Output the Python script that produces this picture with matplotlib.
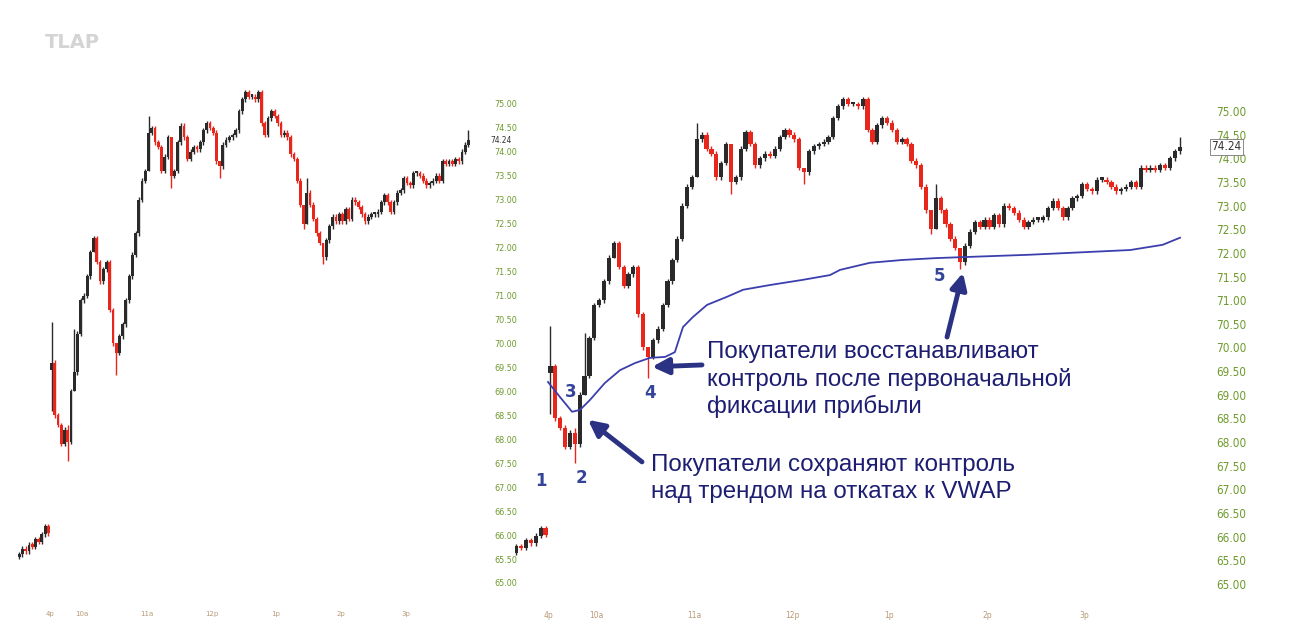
"""
Intraday candles (3-min bars) with VWAP, two views of the same session.
"""
import numpy as np
import matplotlib.pyplot as plt

# ---- data ----
# pre-market bars, minutes relative to 9:30
pre_times = [-28.5, -25.5, -22.5, -19.5, -16.5, -13.5, -10.5, -7.5, -4.5, -1.5]
pre_closes = [65.60, 65.72, 65.66, 65.80, 65.76, 65.92, 65.86, 66.02, 66.18, 66.04]
pre_open = 65.55

session_open = 69.45
closes = [
    69.60, 68.50, 68.30, 67.90, 68.20, 67.95, 69.00, 69.40, 70.20, 70.90,
    71.00, 71.40, 71.90, 72.20, 71.70, 71.30, 71.55, 71.70, 70.70, 70.00,
    69.80, 70.15, 70.40, 70.90, 71.40, 71.85, 72.30, 73.00, 73.40, 73.60,
    74.40, 74.50, 74.20, 74.10, 73.60, 73.90, 74.30, 73.50, 73.60, 74.20,
    74.55, 74.30, 73.85, 74.00, 74.10, 74.05, 74.20, 74.45, 74.60, 74.50,
    74.40, 73.80, 73.70, 74.15, 74.25, 74.30, 74.35, 74.45, 74.85, 75.10,
    75.25, 75.15, 75.15, 75.10, 75.25, 74.60, 74.35, 74.70, 74.85, 74.75,
    74.60, 74.35, 74.40, 74.30, 73.95, 73.85, 73.40, 72.90, 72.50, 73.15,
    72.90, 72.60, 72.30, 72.10, 71.80, 72.15, 72.45, 72.65, 72.55, 72.70,
    72.55, 72.80, 72.60, 73.00, 72.95, 72.85, 72.70, 72.55, 72.65, 72.70,
    72.70, 72.75, 72.95, 73.10, 72.95, 72.75, 72.95, 73.15, 73.20, 73.45,
    73.35, 73.30, 73.55, 73.55, 73.50, 73.40, 73.30, 73.35, 73.40, 73.50,
    73.40, 73.80, 73.75, 73.80, 73.75, 73.85, 73.80, 74.00, 74.15, 74.24,
]
# notable wicks: bar index -> (high, low)
wicks = {0: (70.45, 68.60), 5: (68.30, 67.55), 7: (70.30, 69.00),
         13: (72.25, 71.90), 20: (70.00, 69.35), 30: (74.75, 73.60),
         37: (74.30, 73.25), 52: (73.80, 73.45), 60: (75.30, 75.05),
         78: (72.90, 72.40), 79: (73.45, 72.50), 84: (72.10, 71.65),
         129: (74.45, 74.10)}
last_price = 74.24

# VWAP, minutes after 9:30
vwap_t = [0, 7.4, 14.8, 19.7, 25.8, 35, 44.3, 53.5, 62.7, 72, 78, 83, 89,
          97.8, 110, 120, 136.5, 156.8, 173.4, 179.6, 198, 218, 239, 296,
          358, 378, 388.7]
vwap = [69.27, 68.95, 68.64, 68.68, 68.89, 69.25, 69.52, 69.67, 69.78,
        69.80, 69.90, 70.43, 70.64, 70.90, 71.07, 71.22, 71.32, 71.43,
        71.53, 71.64, 71.79, 71.85, 71.89, 71.96, 72.06, 72.17, 72.32]

hour_ticks = [0, 30, 90, 150, 210, 270, 330]
hour_labels = ['4p', '10a', '11a', '12p', '1p', '2p', '3p']
price_ticks = np.arange(65.0, 75.01, 0.5)

UP, DOWN = '#2a2a2a', '#e8261c'
GREEN = '#6e9a2c'
NAVY = '#1d1d72'
NUMBLUE = '#34449a'
NARROW = dict(family='DejaVu Sans', stretch='condensed')

# ---- build OHLC ----
bar_min = 3
times = np.array(pre_times + [bar_min * (i + 0.5) for i in range(len(closes))])
opens = np.array([pre_open] + pre_closes[:-1] + [session_open] + closes[:-1])
cl = np.array(pre_closes + closes)
hi = np.maximum(opens, cl) + 0.05
lo = np.minimum(opens, cl) - 0.05
for k, (h, l) in wicks.items():
    hi[len(pre_closes) + k] = h
    lo[len(pre_closes) + k] = l

W, H = 1290, 637
fig = plt.figure(figsize=(W / 100, H / 100), dpi=100)


def px_axes(x0, x1, y0, y1):
    ax = fig.add_axes([x0 / W, 1 - y1 / H, (x1 - x0) / W, (y1 - y0) / H])
    ax.patch.set_visible(False)
    return ax


def candles(ax, width):
    col = np.where(cl >= opens, UP, DOWN)
    ax.vlines(times, lo, hi, colors=col, lw=1.0, zorder=2)
    ax.bar(times, np.maximum(np.abs(cl - opens), 0.05),
           bottom=np.minimum(opens, cl), width=width, color=col,
           linewidth=0, zorder=3)


def style(ax, xlim, ylim, fs, pad, xfs):
    ax.set_xlim(*xlim)
    ax.set_ylim(*ylim)
    for s in ax.spines.values():
        s.set_visible(False)
    ax.yaxis.tick_right()
    ax.set_yticks(price_ticks)
    ax.set_yticklabels([f'{v:.2f}' for v in price_ticks], **NARROW)
    ax.tick_params(axis='y', length=0, pad=pad, labelsize=fs,
                   labelcolor=GREEN)
    ax.set_xticks(hour_ticks)
    ax.set_xticklabels(hour_labels)
    ax.tick_params(axis='x', length=0, pad=8, labelsize=xfs,
                   labelcolor='#b89a78')


# left panel
ax_l = px_axes(10, 478, 80, 600)
candles(ax_l, 2.6)
style(ax_l, (-37.1, 397.4), (64.645, 75.50), 6.5, 12, 5)
ax_l.text(1.027, last_price, '74.24', transform=ax_l.get_yaxis_transform(),
          fontsize=6, color='#333333', va='center', ha='left', **NARROW,
          bbox=dict(boxstyle='square,pad=0.05', fc='white', ec='none'))

# right panel
ax_r = px_axes(515, 1195, 80, 600)
candles(ax_r, 2.6)
ax_r.plot(vwap_t, vwap, color='#3b3fae', lw=1.3, zorder=4)
style(ax_r, (-20.3, 397.9), (64.66, 75.655), 8.5, 15, 5.5)
ax_r.text(1.024, last_price, '74.24', transform=ax_r.get_yaxis_transform(),
          fontsize=8.5, color='#333333', va='center', ha='left', **NARROW,
          bbox=dict(boxstyle='square,pad=0.15', fc='white', ec='#777777',
                    lw=0.6))

# point numbers
for s, x, y in [('1', -4.3, 67.18), ('2', 20.3, 67.24), ('3', 14.1, 69.06),
                ('4', 62.7, 69.04), ('5', 241, 71.51)]:
    ax_r.text(x, y, s, color=NUMBLUE, fontsize=12, fontweight='bold',
              ha='center', va='center', zorder=6)

arrow = dict(arrowstyle='-|>', color='#2b3284', lw=3.5, mutation_scale=24,
             shrinkA=0, shrinkB=0)
ax_r.annotate('', xy=(64, 69.59), xytext=(94.7, 69.63), arrowprops=arrow)
ax_r.annotate('', xy=(24.6, 68.47), xytext=(57.8, 67.58), arrowprops=arrow)
ax_r.annotate('', xy=(255.2, 71.58), xytext=(245.4, 70.22), arrowprops=arrow)

txt = dict(color=NAVY, fontsize=17.4, ha='left', va='top',
           family=['Liberation Sans', 'DejaVu Sans'], linespacing=1.26,
           zorder=7)
ax_r.text(97.8, 70.14, 'Покупатели восстанавливают\nконтроль после '
          'первоначальной\nфиксации прибыли', **txt)
ax_r.text(63.3, 67.74, 'Покупатели сохраняют контроль\nнад трендом на '
          'откатах к VWAP', **txt)

fig.text(72 / W, 1 - 42 / H, 'TLAP', color='#d4d4d4', fontsize=14,
         fontweight='bold', ha='center', va='center')

fig.savefig('out.png', dpi=100, facecolor='white')
